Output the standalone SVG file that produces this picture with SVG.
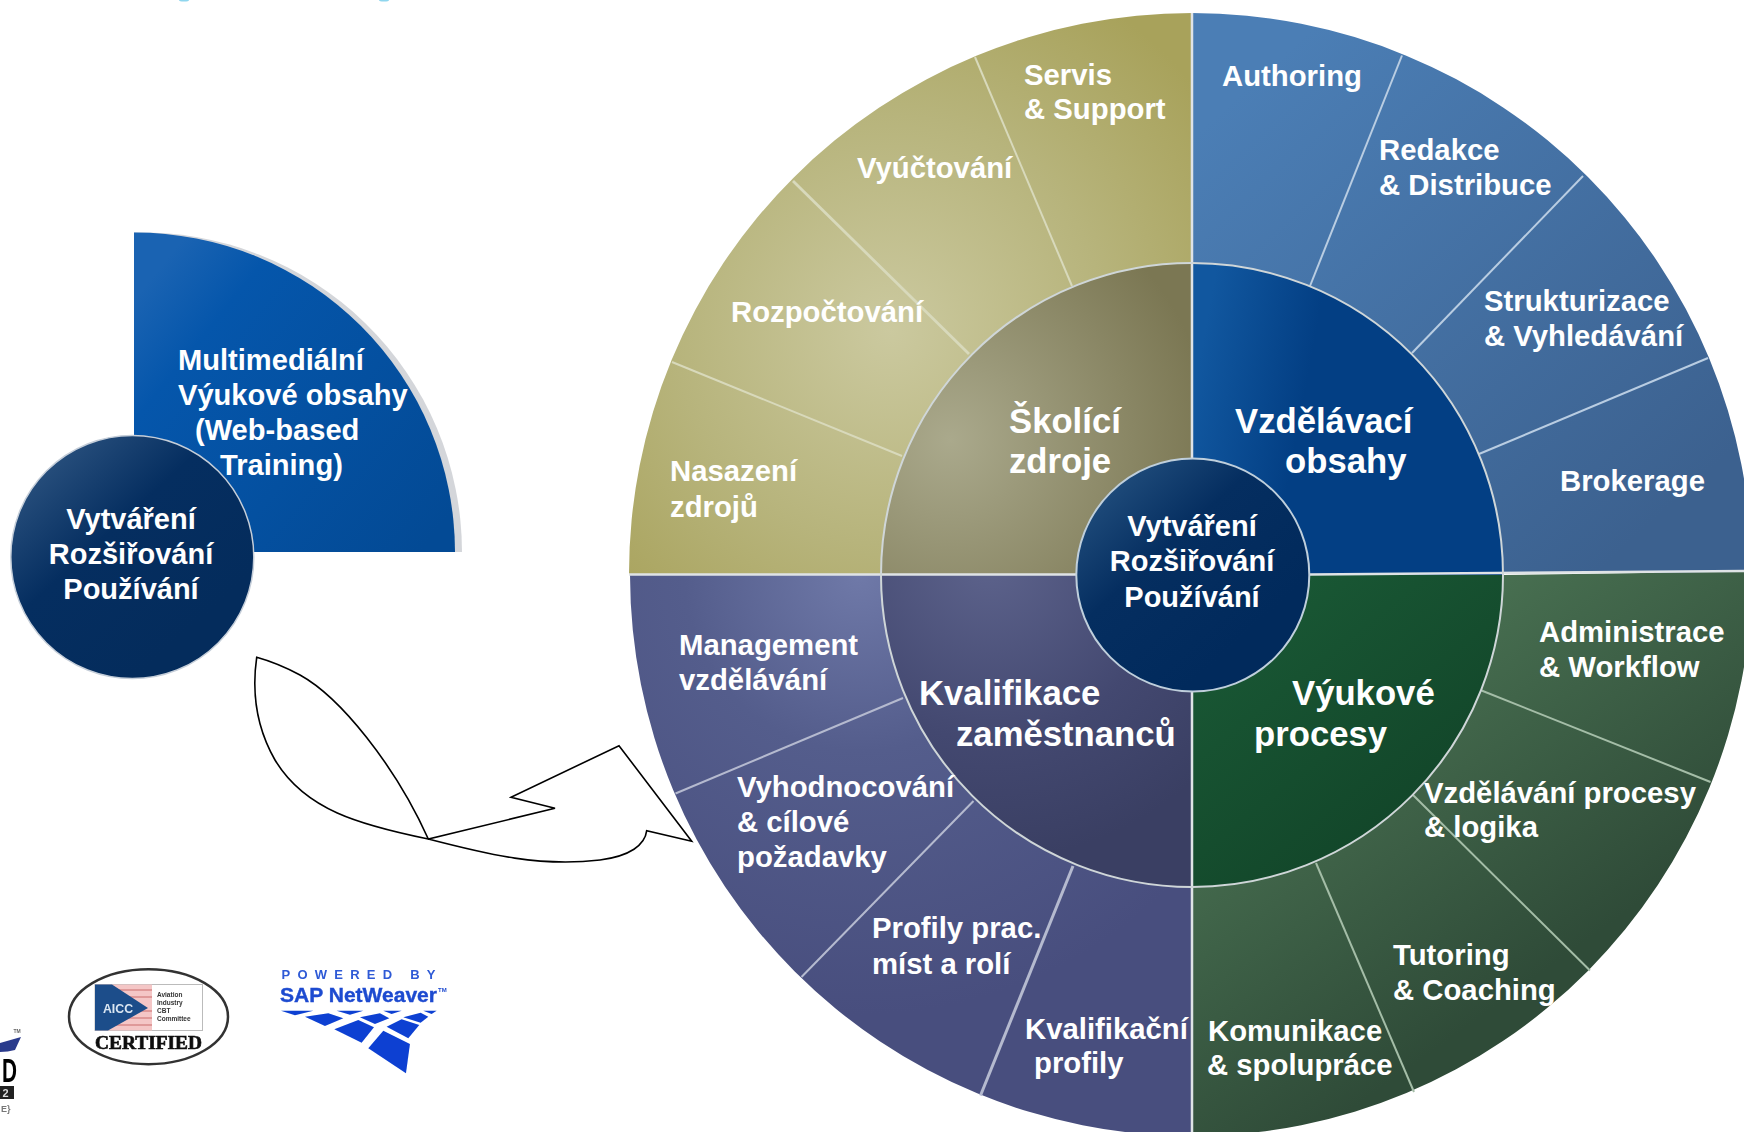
<svg xmlns="http://www.w3.org/2000/svg" width="1744" height="1132" viewBox="0 0 1744 1132">
<style>
text{font-family:"Liberation Sans",Arial,sans-serif;font-weight:700;fill:#fff}
.o{font-size:29.300px}.m{font-size:34.700px}.c{font-size:29px;text-anchor:middle}
.sp{stroke-linecap:butt;fill:none}
.logo{filter:url(#soft)}
</style>
<defs>
<filter id="soft" x="-5%" y="-5%" width="110%" height="110%"><feGaussianBlur stdDeviation=".55"/></filter>
<radialGradient id="gOl" gradientUnits="userSpaceOnUse" cx="890" cy="330" r="390"><stop offset="0" stop-color="#cbc99f"/><stop offset=".55" stop-color="#b7b47c"/><stop offset="1" stop-color="#a8a25b"/></radialGradient>
<radialGradient id="gOm" gradientUnits="userSpaceOnUse" cx="950" cy="440" r="260"><stop offset="0" stop-color="#aaa98c"/><stop offset="1" stop-color="#7b7753"/></radialGradient>
<linearGradient id="gBl" gradientUnits="userSpaceOnUse" x1="1200" y1="130" x2="1600" y2="570"><stop offset="0" stop-color="#4b7eb5"/><stop offset="1" stop-color="#3c618f"/></linearGradient>
<linearGradient id="gBm" gradientUnits="userSpaceOnUse" x1="1192" y1="400" x2="1300" y2="420"><stop offset="0" stop-color="#11579f"/><stop offset="1" stop-color="#033f84"/></linearGradient>
<linearGradient id="gGl" gradientUnits="userSpaceOnUse" x1="1330" y1="640" x2="1560" y2="960"><stop offset="0" stop-color="#4b7454"/><stop offset="1" stop-color="#2f4b38"/></linearGradient>
<linearGradient id="gGm" gradientUnits="userSpaceOnUse" x1="1200" y1="600" x2="1400" y2="850"><stop offset="0" stop-color="#1a5a36"/><stop offset="1" stop-color="#124529"/></linearGradient>
<radialGradient id="gPl" gradientUnits="userSpaceOnUse" cx="860" cy="575" r="440"><stop offset="0" stop-color="#6f79a8"/><stop offset=".4" stop-color="#545d8c"/><stop offset="1" stop-color="#484e7e"/></radialGradient>
<radialGradient id="gPm" gradientUnits="userSpaceOnUse" cx="990" cy="560" r="300"><stop offset="0" stop-color="#5d638c"/><stop offset=".6" stop-color="#434870"/><stop offset="1" stop-color="#3a3f63"/></radialGradient>
<linearGradient id="gC" gradientUnits="userSpaceOnUse" x1="1095" y1="480" x2="1240" y2="640"><stop offset="0" stop-color="#23507f"/><stop offset=".45" stop-color="#052e60"/><stop offset="1" stop-color="#012a5c"/></linearGradient>
<linearGradient id="gC2" gradientUnits="userSpaceOnUse" x1="35" y1="460" x2="190" y2="630"><stop offset="0" stop-color="#2b527f"/><stop offset=".45" stop-color="#052e60"/><stop offset="1" stop-color="#042c5c"/></linearGradient>
<linearGradient id="gQ" gradientUnits="userSpaceOnUse" x1="134" y1="300" x2="430" y2="540"><stop offset="0" stop-color="#1a63b2"/><stop offset=".2" stop-color="#0556ab"/><stop offset="1" stop-color="#034a95"/></linearGradient>
</defs>
<rect width="1744" height="1132" fill="#fff"/>

<g id="top-fragments" fill="#8fd6ee"><ellipse cx="184" cy="0" rx="5" ry="1.500"/><ellipse cx="384" cy="0" rx="5" ry="1.500"/></g>

<g id="quarter-node">
<path d="M134 552V232.500A320 320 0 0 1 462 552Z" fill="#d4d6da"/>
<path d="M134 552V232.500A320 320 0 0 1 455 552Z" fill="url(#gQ)"/>
<text class="o" x="178" y="369.500" style="font-size:29.100px">Multimediální</text>
<text class="o" x="178" y="405" style="font-size:29.100px">Výukové obsahy</text>
<text class="o" x="195" y="440" style="font-size:29.100px">(Web-based</text>
<text class="o" x="220" y="475" style="font-size:29.100px">Training)</text>
</g>
<g id="small-hub">
<circle cx="132.300" cy="557" r="121.500" fill="url(#gC2)" stroke="#c5ced9" stroke-width="1.500"/>
<text class="c" x="131" y="529">Vytváření</text>
<text class="c" x="131" y="563.500">Rozšiřování</text>
<text class="c" x="131" y="598.500">Používání</text>
</g>

<g id="connectors">
<path d="M256.700 657.300C252 690 255 725 275 760C305 810 360 825 428.300 839C490 855 540 867 600 860C630 856 645 845 646.700 830.700L691.700 841.300L619 745.700L511 797.300L555 808.300L428.300 839C395 765 340 697 300 675C285 667 270 661 256.700 657.300Z" fill="none" stroke="#000" stroke-width="1.600" stroke-linejoin="miter"/>
</g>

<g id="ring-outer">
<path d="M1192 575H629A563 561 0 0 1 1192 13V263A311 312 0 0 0 881 575Z" fill="url(#gOl)"/>
<path d="M1192 576V13A560 560 0 0 1 1752 573H1503A311 312 0 0 0 1192 263Z" fill="url(#gBl)"/>
<path d="M1192 887A311 312 0 0 0 1503 575L1752 571.500A560 564 0 0 1 1192 1136Z" fill="url(#gGl)"/>
<path d="M1192 575H881A311 312 0 0 0 1192 887V1136A562 562 0 0 1 630 575Z" fill="url(#gPl)"/>
</g>
<g id="ring-middle">
<path d="M1192 575H881A311 312 0 0 1 1192 263Z" fill="url(#gOm)"/>
<path d="M1192 575V263A311 312 0 0 1 1503 575Z" fill="url(#gBm)"/>
<path d="M1192 575H1503A311 312 0 0 1 1192 887Z" fill="url(#gGm)"/>
<path d="M1192 575H881A311 312 0 0 0 1192 887Z" fill="url(#gPm)"/>
</g>
<g id="ring-lines" class="sp">
<g stroke="#d8d9bb"><line x1="975" y1="57" x2="1072" y2="286" stroke-width="2"/><line x1="793" y1="181" x2="969" y2="354" stroke-width="2.800"/><line x1="672" y1="362" x2="902" y2="456" stroke-width="2"/></g>
<g stroke="#b9cde2" stroke-width="2"><line x1="1402" y1="55.500" x2="1310" y2="286"/><line x1="1583" y1="176" x2="1412" y2="353"/><line x1="1708" y1="358" x2="1479" y2="454"/></g>
<g stroke="#a4bda7" stroke-width="2"><line x1="1481.500" y1="690.500" x2="1710.500" y2="782"/><line x1="1413" y1="795" x2="1590" y2="970.500"/><line x1="1316" y1="863" x2="1414" y2="1092"/></g>
<g stroke="#b5bacf"><line x1="903" y1="698" x2="675.500" y2="793.500" stroke-width="2"/><line x1="973.500" y1="801" x2="801.500" y2="977" stroke-width="2"/><line x1="1073" y1="866" x2="980.500" y2="1095.500" stroke-width="3"/></g>
<path d="M629 574.500H1310L1744 571M1192 13V1132" stroke="#dfe3e6" stroke-width="2.500"/>
<ellipse cx="1192" cy="575" rx="311" ry="312" stroke="#cfd6d8" stroke-width="2"/>
</g>
<g id="wheel-hub"><circle cx="1192.800" cy="575" r="116.500" fill="url(#gC)" stroke="#bfcfdc" stroke-width="2"/>
<text class="c" x="1192" y="535.500">Vytváření</text>
<text class="c" x="1192" y="570.500">Rozšiřování</text>
<text class="c" x="1192" y="606.500">Používání</text>
</g>

<g id="n-servis"><text class="o" x="1024" y="85">Servis</text><text class="o" x="1024" y="119">&amp; Support</text></g>
<g id="n-vyuctovani"><text class="o" x="857" y="178">Vyúčtování</text></g>
<g id="n-rozpoctovani"><text class="o" x="731" y="322">Rozpočtování</text></g>
<g id="n-nasazeni"><text class="o" x="670" y="481">Nasazení</text><text class="o" x="670" y="517">zdrojů</text></g>
<g id="n-skolici"><text class="m" x="1009" y="432.500">Školící</text><text class="m" x="1009" y="473">zdroje</text></g>
<g id="n-authoring"><text class="o" x="1222" y="85.500">Authoring</text></g>
<g id="n-redakce"><text class="o" x="1379" y="160">Redakce</text><text class="o" x="1379" y="195">&amp; Distribuce</text></g>
<g id="n-struktur"><text class="o" x="1484" y="310.500">Strukturizace</text><text class="o" x="1484" y="346">&amp; Vyhledávání</text></g>
<g id="n-brokerage"><text class="o" x="1560" y="490.500">Brokerage</text></g>
<g id="n-vzdelavaci"><text class="m" x="1235" y="432.500">Vzdělávací</text><text class="m" x="1285" y="473">obsahy</text></g>
<g id="n-management"><text class="o" x="679" y="655">Management</text><text class="o" x="679" y="689.500">vzdělávání</text></g>
<g id="n-vyhodnoc"><text class="o" x="737" y="797">Vyhodnocování</text><text class="o" x="737" y="832">&amp; cílové</text><text class="o" x="737" y="867">požadavky</text></g>
<g id="n-profily"><text class="o" x="872" y="938">Profily prac.</text><text class="o" x="872" y="973.500">míst a rolí</text></g>
<g id="n-kvalprof"><text class="o" x="1025" y="1039">Kvalifikační</text><text class="o" x="1034" y="1073">profily</text></g>
<g id="n-kvalifikace"><text class="m" x="919" y="704.500">Kvalifikace</text><text class="m" x="956" y="745.500">zaměstnanců</text></g>
<g id="n-admin"><text class="o" x="1539" y="642">Administrace</text><text class="o" x="1539" y="677">&amp; Workflow</text></g>
<g id="n-vzdproc"><text class="o" x="1424" y="802.500">Vzdělávání procesy</text><text class="o" x="1424" y="836.500">&amp; logika</text></g>
<g id="n-tutoring"><text class="o" x="1393" y="965">Tutoring</text><text class="o" x="1393" y="999.500">&amp; Coaching</text></g>
<g id="n-komunikace"><text class="o" x="1208" y="1041">Komunikace</text><text class="o" x="1207" y="1075">&amp; spolupráce</text></g>
<g id="n-vyukove"><text class="m" x="1292" y="704.500">Výukové</text><text class="m" x="1254" y="745.500">procesy</text></g>

<g id="logo-left" class="logo">
<path d="M0 1043L21 1037L15 1050Q8 1052 0 1052Z" fill="#2c3a8c"/>
<text x="13.500" y="1033" style="font-size:5px;fill:#666">TM</text>
<text x="2" y="1082" style="font-size:34px;fill:#000" textLength="15" lengthAdjust="spacingAndGlyphs">D</text>
<rect x="0" y="1086" width="14" height="13" fill="#222"/>
<text x="2.500" y="1097" style="font-size:11px;fill:#ddd">2</text>
<text x="1" y="1112" style="font-size:9px;fill:#777">E}</text>
</g>

<g id="logo-aicc" class="logo">
<ellipse cx="148.500" cy="1016.700" rx="79.500" ry="47.500" fill="#fff" stroke="#333" stroke-width="2.500"/>
<rect x="95" y="984.500" width="107.500" height="46" fill="#fff" stroke="#bbb" stroke-width="1"/>
<rect x="95" y="984.500" width="57" height="46" fill="#f4c6c6"/>
<g stroke="#d98a8a" stroke-width="1.500"><line x1="95" y1="990" x2="152" y2="990"/><line x1="95" y1="997" x2="152" y2="997"/><line x1="95" y1="1011" x2="152" y2="1011"/><line x1="95" y1="1018" x2="152" y2="1018"/><line x1="95" y1="1025" x2="152" y2="1025"/></g>
<path d="M95 984.500H112L148 1008L108 1030.500H95Z" fill="#1c4e8a"/>
<text x="103" y="1013" style="font-size:13px;fill:#dbe6f2" textLength="30" lengthAdjust="spacingAndGlyphs">AICC</text>
<g style="font-size:6.500px"><text x="157" y="997" style="fill:#333">Aviation</text><text x="157" y="1005" style="fill:#333">Industry</text><text x="157" y="1013" style="fill:#333">CBT</text><text x="157" y="1021" style="fill:#333">Committee</text></g>
<text x="95" y="1048.500" style="font-family:'Liberation Serif',serif;font-size:19.500px;fill:#111;stroke:#111;stroke-width:.7" textLength="107" lengthAdjust="spacingAndGlyphs">CERTIFIED</text>
</g>

<g id="logo-sap" class="logo">
<text x="281.500" y="979" style="font-size:13px;fill:#2f5ad6" textLength="154" lengthAdjust="spacing">POWERED BY</text>
<text x="280" y="1001.500" style="font-size:20.500px;fill:#1f4bd0;stroke:#1f4bd0;stroke-width:.4" textLength="157" lengthAdjust="spacingAndGlyphs">SAP NetWeaver</text>
<text x="438" y="992" style="font-size:6px;fill:#1f4bd0">TM</text>
<g fill="#0a3fd2" transform="translate(0 940) scale(.3333)">
<polygon points="843,212 940,212 885,226"/><polygon points="1010,212 1090,212 1050,224"/><polygon points="1150,212 1205,212 1175,222"/><polygon points="1270,212 1310,212 1295,222"/>
<polygon points="915,230 985,220 1030,235 975,258"/><polygon points="1080,232 1140,220 1168,235 1125,252"/><polygon points="1210,232 1262,218 1285,230 1262,248"/>
<polygon points="1003,268 1075,240 1122,262 1085,308"/><polygon points="1160,260 1205,238 1258,255 1225,295"/>
<polygon points="1105,325 1150,272 1230,312 1218,400"/>
</g>
</g>
</svg>
